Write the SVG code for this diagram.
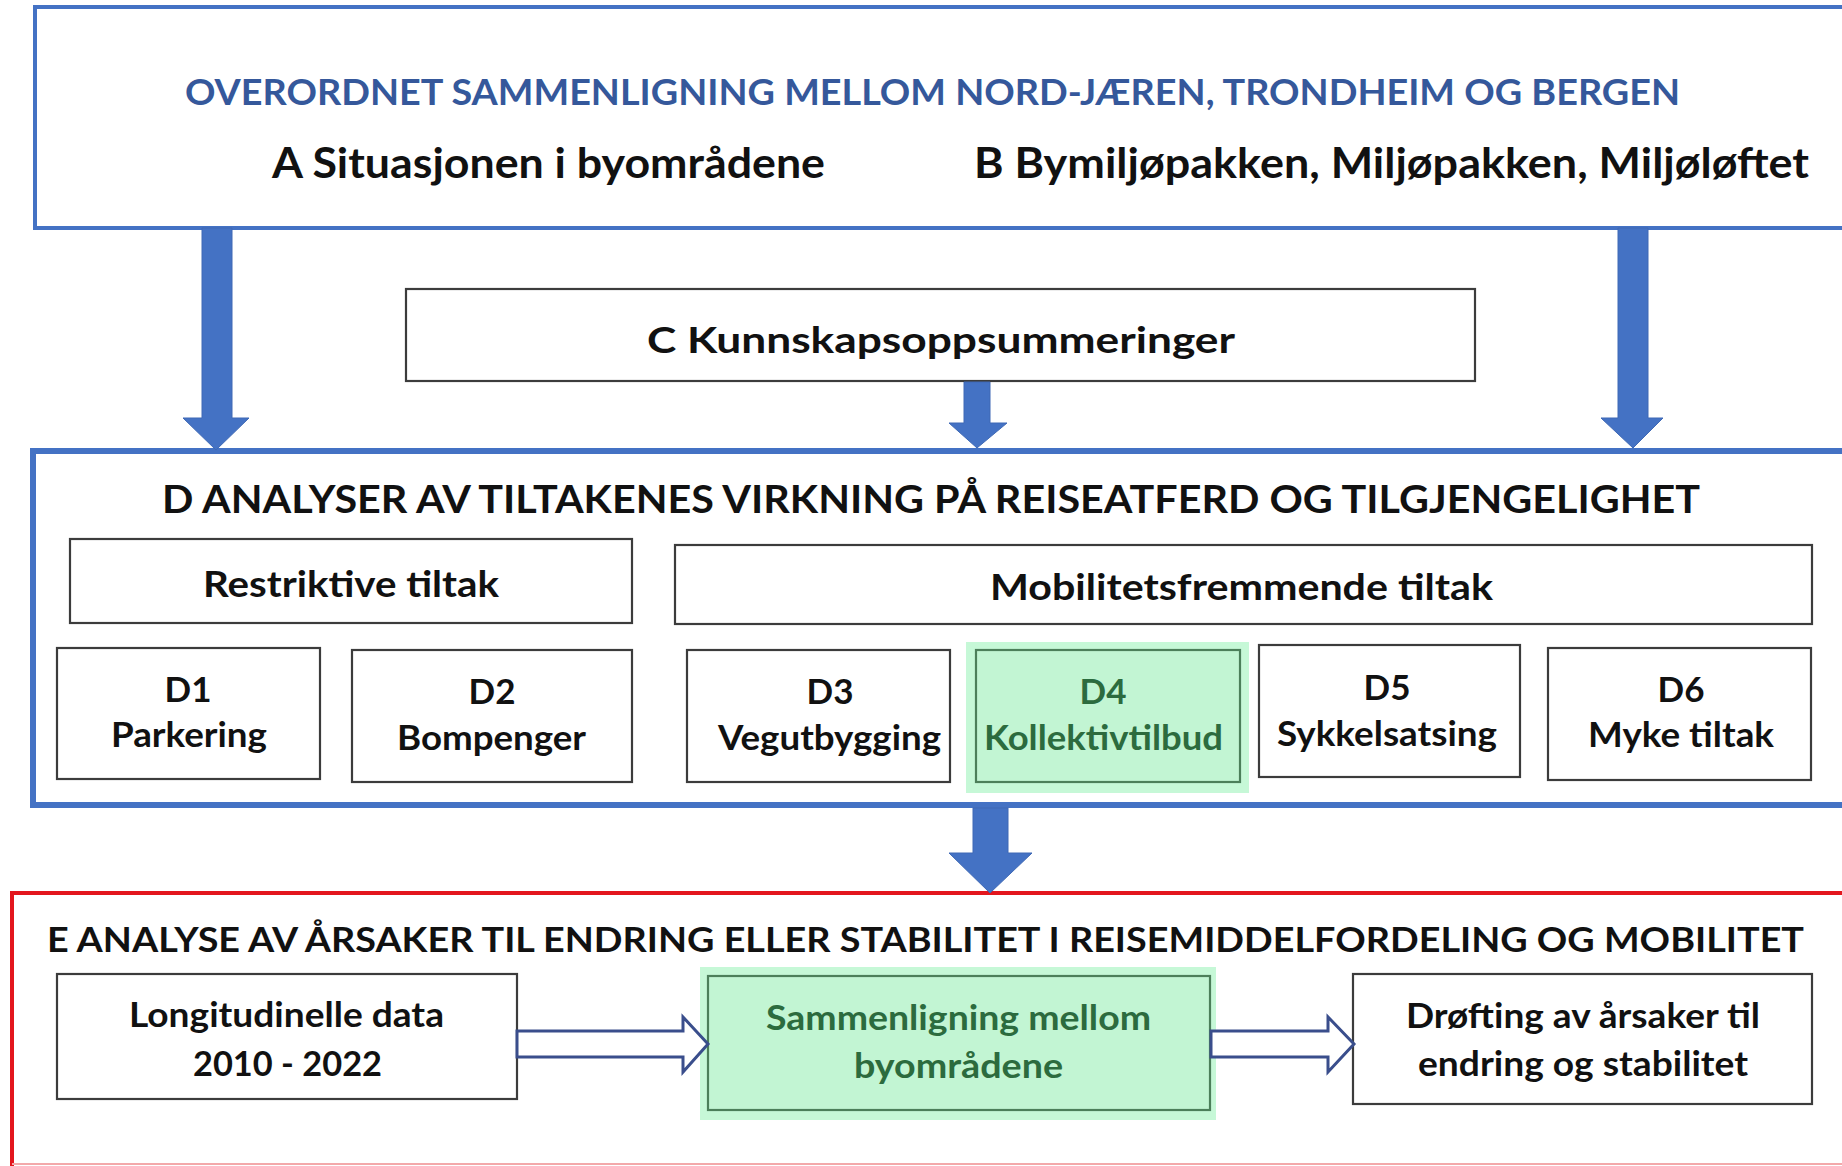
<svg xmlns="http://www.w3.org/2000/svg" width="1842" height="1166" viewBox="0 0 1842 1166">
<style>
  .t { font-family: Lato, "Open Sans", "Liberation Sans", sans-serif; font-weight: 700; fill: #111111; }
  .tb { font-family: Lato, "Open Sans", "Liberation Sans", sans-serif; font-weight: 700; fill: #35589B; }
  .tg { font-family: Lato, "Open Sans", "Liberation Sans", sans-serif; font-weight: 700; fill: #2C6B3E; }
  .box { fill: #FFFFFF; stroke: #3C3C3C; stroke-width: 2.2; }
  .gbox { fill: #C2F5D3; stroke: #4C7F5A; stroke-width: 2.2; }
  .ghl { fill: #C6F8D7; }
  .big { fill: #4472C4; stroke: #3F69B5; stroke-width: 1; }
  .hollow { fill: #FFFFFF; stroke: #3A4E8C; stroke-width: 3; stroke-linejoin: miter; }
</style>
<rect x="0" y="0" width="1842" height="1166" fill="#FFFFFF"/>

<g id="top">
  <rect x="35" y="7" width="1830" height="221" fill="#FFFFFF" stroke="#4472C4" stroke-width="4"/>
  <text class="tb" x="185" y="105" font-size="36" textLength="1495" lengthAdjust="spacingAndGlyphs">OVERORDNET SAMMENLIGNING MELLOM NORD-JÆREN, TRONDHEIM OG BERGEN</text>
  <text class="t" x="272" y="178" font-size="42" textLength="553" lengthAdjust="spacingAndGlyphs">A Situasjonen i byområdene</text>
  <text class="t" x="974" y="178" font-size="42" textLength="835" lengthAdjust="spacingAndGlyphs">B Bymiljøpakken, Miljøpakken, Miljøløftet</text>
</g>

<g id="C">
  <rect class="box" x="406" y="289" width="1069" height="92"/>
  <text class="t" x="647" y="353" font-size="36" textLength="588" lengthAdjust="spacingAndGlyphs">C Kunnskapsoppsummeringer</text>
</g>

<g id="D">
  <rect x="33" y="451" width="1830" height="354" fill="none" stroke="#4472C4" stroke-width="6"/>
  <text class="t" x="162" y="513" font-size="39" textLength="1538" lengthAdjust="spacingAndGlyphs">D ANALYSER AV TILTAKENES VIRKNING PÅ REISEATFERD OG TILGJENGELIGHET</text>
</g>

<g id="restriktive">
  <rect class="box" x="70" y="539" width="562" height="84"/>
  <text class="t" x="203" y="597" font-size="37" textLength="296" lengthAdjust="spacingAndGlyphs">Restriktive tiltak</text>
</g>

<g id="mobilitet">
  <rect class="box" x="675" y="545" width="1137" height="79"/>
  <text class="t" x="990" y="600" font-size="37" textLength="503" lengthAdjust="spacingAndGlyphs">Mobilitetsfremmende tiltak</text>
</g>

<g id="D1">
  <rect class="box" x="57" y="648" width="263" height="131"/>
  <text class="t" x="188" y="702" font-size="35" text-anchor="middle">D1</text>
  <text class="t" x="111" y="747" font-size="35" textLength="156" lengthAdjust="spacingAndGlyphs">Parkering</text>
</g>

<g id="D2">
  <rect class="box" x="352" y="650" width="280" height="132"/>
  <text class="t" x="492" y="704" font-size="35" text-anchor="middle">D2</text>
  <text class="t" x="397" y="750" font-size="35" textLength="189" lengthAdjust="spacingAndGlyphs">Bompenger</text>
</g>

<g id="D3">
  <rect class="box" x="687" y="650" width="263" height="132"/>
  <text class="t" x="830" y="704" font-size="35" text-anchor="middle">D3</text>
  <text class="t" x="718" y="750" font-size="35" textLength="223" lengthAdjust="spacingAndGlyphs">Vegutbygging</text>
</g>

<g id="D4">
  <rect class="ghl" x="966" y="642" width="283" height="151"/>
  <rect class="gbox" x="976" y="650" width="264" height="132"/>
  <text class="tg" x="1103" y="704" font-size="35" text-anchor="middle">D4</text>
  <text class="tg" x="984" y="750" font-size="35" textLength="239" lengthAdjust="spacingAndGlyphs">Kollektivtilbud</text>
</g>

<g id="D5">
  <rect class="box" x="1259" y="645" width="261" height="132"/>
  <text class="t" x="1387" y="700" font-size="35" text-anchor="middle">D5</text>
  <text class="t" x="1277" y="746" font-size="35" textLength="220" lengthAdjust="spacingAndGlyphs">Sykkelsatsing</text>
</g>

<g id="D6">
  <rect class="box" x="1548" y="648" width="263" height="132"/>
  <text class="t" x="1681" y="702" font-size="35" text-anchor="middle">D6</text>
  <text class="t" x="1588" y="747" font-size="35" textLength="186" lengthAdjust="spacingAndGlyphs">Myke tiltak</text>
</g>

<g id="E">
  <path d="M12,1166 L12,893 L1850,893" fill="none" stroke="#E3161D" stroke-width="4"/>
  <line x1="12" y1="1164" x2="1842" y2="1164" stroke="#F3A9AB" stroke-width="2"/>
  <text class="t" x="47" y="952" font-size="35" textLength="1757" lengthAdjust="spacingAndGlyphs">E ANALYSE AV ÅRSAKER TIL ENDRING ELLER STABILITET I REISEMIDDELFORDELING OG MOBILITET</text>
</g>

<g id="longitudinelle">
  <rect class="box" x="57" y="974" width="460" height="125"/>
  <text class="t" x="129" y="1027" font-size="35" textLength="315" lengthAdjust="spacingAndGlyphs">Longitudinelle data</text>
  <text class="t" x="193" y="1076" font-size="35" textLength="189" lengthAdjust="spacingAndGlyphs">2010 - 2022</text>
</g>

<g id="sammenligning">
  <rect class="ghl" x="700" y="967" width="516" height="153"/>
  <rect class="gbox" x="708" y="976" width="502" height="134"/>
  <text class="tg" x="766" y="1030" font-size="35" textLength="385" lengthAdjust="spacingAndGlyphs">Sammenligning mellom</text>
  <text class="tg" x="854" y="1078" font-size="35" textLength="209" lengthAdjust="spacingAndGlyphs">byområdene</text>
</g>

<g id="drofting">
  <rect class="box" x="1353" y="974" width="459" height="130"/>
  <text class="t" x="1406" y="1028" font-size="35" textLength="354" lengthAdjust="spacingAndGlyphs">Drøfting av årsaker til</text>
  <text class="t" x="1418" y="1076" font-size="35" textLength="330" lengthAdjust="spacingAndGlyphs">endring og stabilitet</text>
</g>

<g id="connectors">
  <polygon class="big" points="202,228 232,228 232,418 249,418 216,450 183,418 202,418"/>
  <polygon class="big" points="964,382 990,382 990,423 1007,423 977,448 949,423 964,423"/>
  <polygon class="big" points="1618,228 1648,228 1648,418 1663,418 1633,448 1601,418 1618,418"/>
  <polygon class="big" points="973,808 1008,808 1008,853 1032,853 990,893 949,853 973,853"/>
  <polygon class="hollow" points="517,1031 683,1031 683,1017 708,1044 683,1072 683,1057 517,1057"/>
  <polygon class="hollow" points="1211,1031 1328,1031 1328,1017 1354,1044 1328,1072 1328,1057 1211,1057"/>
</g>
</svg>
